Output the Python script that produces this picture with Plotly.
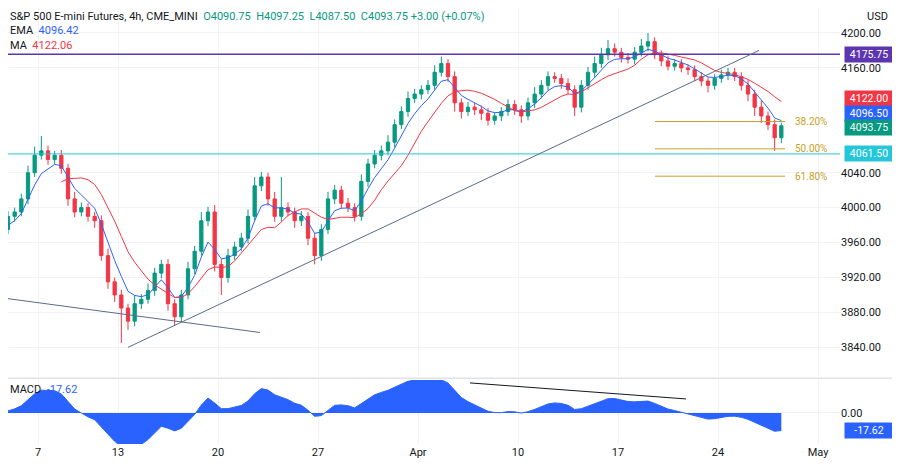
import numpy as np
import pandas as pd
import plotly.graph_objects as go

# 8h bars, three per trading day, day 0 = Mar 6 (weekends removed)
closes = [
    3975, 3990, 3995,  4010, 4040, 4060,  4065, 4055, 4060,  4045, 4010, 3995,
    4000, 3990, 3985,  3945, 3915, 3900,  3885, 3870, 3890,  3895, 3905, 3925,
    3935, 3890, 3875,  3900, 3930, 3950,  3985, 3995, 3935,  3920, 3945, 3955,
    3965, 3990, 4025,  4035, 4010, 3990,  4000, 3995, 3985,  3990, 3965, 3945,
    3975, 4010, 4020,  4005, 4000, 3990,  4030, 4050, 4060,  4065, 4075, 4095,
    4110, 4125, 4130,  4135, 4140, 4155,  4165, 4150, 4120,  4110, 4115, 4112,
    4108, 4100, 4105,  4110, 4118, 4112,  4105, 4120, 4130,  4140, 4150, 4148,
    4142, 4135, 4115,  4140, 4155, 4165,  4175, 4182, 4178,  4172, 4170, 4178,
    4185, 4190, 4175,  4168, 4162, 4165,  4160, 4158, 4150,  4145, 4140, 4148,
    4152, 4155, 4150,  4140, 4130, 4115,  4105, 4095, 4080,  4093.75,
]
hi_wick = [
    8, 6, 5,  6, 8, 10,  17, 6, 5,  6, 5, 8,  6, 5, 5,  6, 8, 5,  6, 5, 10,  6, 8, 6,
    5, 6, 5,  6, 8, 6,  10, 6, 8,  6, 8, 6,  6, 8, 10,  6, 5, 8,  35, 6, 5,  6, 5, 6,
    6, 8, 6,  5, 6, 5,  8, 6, 6,  6, 8, 6,  6, 8, 6,  5, 6, 8,  8, 5, 6,  5, 6, 5,
    5, 6, 4,  5, 6, 5,  5, 6, 8,  6, 6, 5,  5, 6, 5,  6, 6, 8,  8, 10, 6,  5, 5, 6,
    8, 10, 5,  5, 6, 5,  5, 4, 5,  5, 4, 5,  6, 5, 5,  5, 6, 5,  8, 5, 6,  3.5,
]
lo_wick = [
    6, 5, 6,  5, 6, 5,  5, 6, 5,  6, 8, 6,  5, 6, 8,  6, 8, 8,  40, 10, 6,  6, 5, 6,
    6, 8, 10,  6, 5, 6,  5, 6, 8,  20, 6, 5,  5, 6, 5,  6, 8, 6,  6, 5, 8,  6, 8, 10,
    6, 5, 6,  6, 5, 6,  5, 6, 5,  6, 5, 6,  5, 6, 5,  6, 5, 5,  5, 6, 10,  8, 5, 6,
    8, 6, 5,  6, 5, 6,  8, 5, 6,  5, 6, 5,  6, 5, 10,  6, 5, 6,  5, 6, 5,  6, 5, 6,
    5, 6, 5,  6, 5, 5,  5, 6, 5,  6, 8, 5,  5, 6, 5,  6, 8, 10,  8, 6, 15,  6.25,
]
tick_days = [1, 5, 10, 15, 20, 25, 30, 35, 40]
tick_labels = ["7", "13", "20", "27", "Apr", "10", "17", "24", "May"]
price_ticks = [3840, 3880, 3920, 3960, 4000, 4040, 4160, 4200]
resistance = 4175.75
support = 4061.50
fib_levels = [4098.6, 4067.3, 4036.0]
fib_labels = ["38.20%", "50.00%", "61.80%"]

GREEN, RED, BLUE, TEXT = "#089981", "#f23645", "#2962ff", "#131722"
FIB = "#c9a227"

c = np.array(closes, dtype=float)
o = np.r_[c[0] - 10, c[:-1]]
hi = np.maximum(o, c) + np.array(hi_wick)
lo = np.minimum(o, c) - np.array(lo_wick)
x = np.arange(len(c)) / 3 - 1 + 1 / 6

s = pd.Series(c)
ema = s.ewm(span=5, adjust=False).mean()
ma = s.rolling(10).mean()
macd = s.ewm(span=6, adjust=False).mean() - s.ewm(span=13, adjust=False).mean()

fig = go.Figure()
fig.add_trace(go.Scatter(x=x, y=macd, yaxis="y2", mode="lines", fill="tozeroy",
                         line=dict(color=BLUE, width=1), fillcolor=BLUE))
fig.add_trace(go.Candlestick(
    x=x, open=o, high=hi, low=lo, close=c,
    increasing=dict(line=dict(color=GREEN, width=1), fillcolor=GREEN),
    decreasing=dict(line=dict(color=RED, width=1), fillcolor=RED),
    whiskerwidth=0,
))
fig.add_trace(go.Scatter(x=x, y=ema, mode="lines", line=dict(color=BLUE, width=1)))
fig.add_trace(go.Scatter(x=x, y=ma, mode="lines", line=dict(color=RED, width=1)))

shapes = [
    dict(type="line", xref="paper", x0=0, x1=1, yref="y", y0=resistance, y1=resistance,
         line=dict(color="#5e35b1", width=1.5)),
    dict(type="line", xref="paper", x0=0, x1=1, yref="y", y0=support, y1=support,
         line=dict(color="#26c6da", width=1)),
    dict(type="line", xref="x", x0=5.5, x1=37.05, yref="y", y0=3840, y1=4180,
         line=dict(color="#5b6b8c", width=1)),
    dict(type="line", xref="x", x0=-0.9, x1=12.1, yref="y", y0=3897, y1=3857,
         line=dict(color="#5b6b8c", width=1)),
    dict(type="line", xref="x", x0=22.6, x1=33.4, yref="y2", y0=30, y1=14,
         line=dict(color=TEXT, width=1)),
    dict(type="line", xref="paper", x0=0, x1=1.07, yref="paper", y0=0.151, y1=0.151,
         line=dict(color="#d1d4dc", width=1)),
]
annotations = []
for lvl, lab in zip(fib_levels, fib_labels):
    shapes.append(dict(type="line", xref="x", x0=31.85, x1=38.35, yref="y", y0=lvl, y1=lvl,
                       line=dict(color=FIB, width=1)))
    annotations.append(dict(x=38.75, y=lvl, xref="x", yref="y", text=lab, showarrow=False,
                            xanchor="left", font=dict(color=FIB, size=10)))

right_labels = [
    (resistance, "4175.75", "#5e35b1", "y"),
    (4124.6, "4122.00", RED, "y"),
    (4108, "4096.50", BLUE, "y"),
    (4092, "4093.75", GREEN, "y"),
    (support, "4061.50", "#26c6da", "y"),
    (-17.62, "-17.62", BLUE, "y2"),
]
for yv, txt, col, yr in right_labels:
    annotations.append(dict(x=1.005, y=yv, xref="paper", yref=yr, text=txt, showarrow=False,
                            xanchor="left", bgcolor=col, font=dict(color="white", size=10.5),
                            borderpad=1, width=46))
annotations += [
    dict(x=1.03, y=1, xref="paper", yref="paper", text="USD", showarrow=False,
         xanchor="left", yanchor="top", font=dict(size=11, color=TEXT)),
    dict(x=0.0, y=1, xref="paper", yref="paper", xanchor="left", yanchor="top",
         showarrow=False, align="left", font=dict(size=11, color=TEXT),
         text=("S&P 500 E-mini Futures, 4h, CME_MINI  "
               f"<span style='color:{GREEN}'>O4090.75  H4097.25  L4087.50  C4093.75 +3.00 (+0.07%)</span>"
               f"<br>EMA  <span style='color:{BLUE}'>4096.42</span>"
               f"<br>MA  <span style='color:{RED}'>4122.06</span>")),
    dict(x=0.0, y=0.145, xref="paper", yref="paper", xanchor="left", yanchor="top",
         showarrow=False, font=dict(size=11, color=TEXT),
         text=f"MACD  <span style='color:{BLUE}'>-17.62</span>"),
]

# page body has an 8px margin, so the figure is drawn 8px smaller and offset
fig.update_layout(
    width=892, height=456, template="plotly_white", showlegend=False,
    plot_bgcolor="white", paper_bgcolor="white",
    margin=dict(l=0, r=60, t=0, b=20),
    font=dict(family="Roboto", size=11, color=TEXT),
    xaxis=dict(range=[-0.5, 41.1], tickvals=tick_days, ticktext=tick_labels,
               anchor="y2", showgrid=True, gridcolor="#f0f3fa", zeroline=False,
               rangeslider=dict(visible=False), ticks="", showline=False),
    yaxis=dict(domain=[0.153, 1], range=[3805.7, 4228.6], side="right", tickvals=price_ticks,
               gridcolor="#f0f3fa", zeroline=False, tickformat=".2f"),
    yaxis2=dict(domain=[0, 0.147], range=[-31, 33], side="right", tickvals=[0],
                ticktext=["0.00"], gridcolor="#f0f3fa", zeroline=False),
    shapes=shapes, annotations=annotations,
)
fig.write_html("out.html")
